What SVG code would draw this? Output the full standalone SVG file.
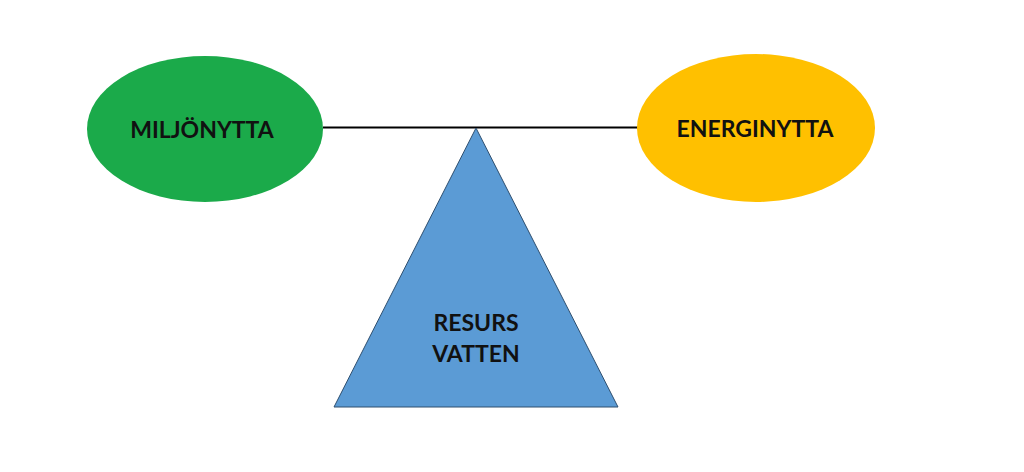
<svg xmlns="http://www.w3.org/2000/svg" width="1024" height="472" viewBox="0 0 1024 472">
<style>
.t{font-family:Lato,"Open Sans","Liberation Sans",sans-serif;font-weight:bold;font-size:23px;fill:#111;text-anchor:middle}
</style>
<rect width="1024" height="472" fill="#fff"/>
<g id="connectors">
<line x1="323" y1="127.5" x2="638" y2="127.5" stroke="#000" stroke-width="2"/>
</g>
<g id="resurs">
<polygon points="476,128 334,407 618,407" fill="#5B9BD5" stroke="#2F4F6F" stroke-width="1"/>
<text class="t" x="476" y="331">RESURS</text>
<text class="t" x="476" y="362">VATTEN</text>
</g>
<g id="miljonytta">
<ellipse cx="205" cy="129" rx="118" ry="73" fill="#1BAA4A"/>
<text class="t" x="202" y="138">MILJÖNYTTA</text>
</g>
<g id="energinytta">
<ellipse cx="756" cy="128" rx="119" ry="74" fill="#FFC000"/>
<text class="t" x="755" y="137">ENERGINYTTA</text>
</g>
</svg>
